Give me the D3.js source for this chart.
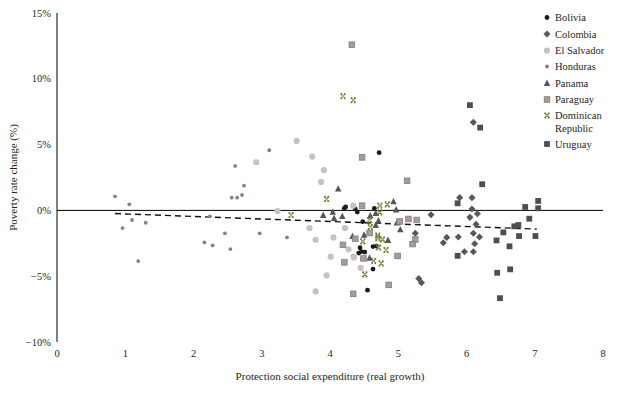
<!DOCTYPE html>
<html>
<head>
<meta charset="utf-8">
<script src="https://cdn.jsdelivr.net/npm/d3@7"></script>
<style>
  body { margin: 0; background: #fff; }
  svg text { font-family: "Liberation Serif", "DejaVu Serif", serif; fill: #231f20; }
</style>
</head>
<body>
<div id="chart"></div>
<script>
const width = 622, height = 394;
const margin = { top: 13, right: 19, bottom: 52, left: 57 };

// data: [expenditure growth, poverty rate change %]
const bolivia = [[4.72,4.39],[4.21,0.16],[4.23,0.26],[4.37,0.11],[4.40,-0.12],[4.65,0.16],[4.48,-0.86],
  [4.44,-2.84],[4.46,-3.13],[4.42,-3.24],[4.51,-3.17],[4.34,-3.52],[4.63,-2.75],[4.68,-2.71],[4.63,-4.46],[4.55,-6.06]];
const colombia = [[6.10,6.69],[5.90,0.97],[6.08,0.97],[6.08,0.11],[6.05,-0.53],[6.16,-0.25],[6.14,-1.06],
  [6.10,-1.74],[6.19,-2.02],[6.12,-2.53],[5.88,-2.02],[5.71,-2.05],[5.66,-2.46],[5.97,-3.14],[6.10,-3.14],
  [5.48,-0.33],[5.25,-1.74],[5.30,-5.17],[5.34,-5.49]];
const elSalvador = [[2.92,3.66],[3.23,-0.05],[3.51,5.28],[3.74,4.09],[3.91,3.07],[3.87,2.16],[3.70,-1.34],
  [3.79,-2.23],[4.01,-3.52],[3.95,-4.94],[3.79,-6.16],[4.34,0.36],[4.22,-1.34],[4.05,-2.05],[4.27,-2.96],
  [4.35,-3.57],[4.45,-4.36]];
const honduras = [[0.85,1.07],[1.06,0.46],[0.96,-1.34],[1.10,-0.73],[1.30,-0.94],[1.19,-3.85],[2.24,-0.45],
  [2.16,-2.43],[2.28,-2.66],[2.46,-1.74],[2.54,-2.94],[2.56,0.97],[2.64,0.97],[2.71,1.17],[2.74,1.88],
  [2.61,3.38],[2.97,-1.74],[3.11,4.57],[3.37,-2.05]];
const panama = [[4.12,1.65],[3.90,-0.35],[4.04,-0.11],[4.06,-0.58],[4.18,-0.43],[4.59,-0.39],[4.67,-0.20],
  [4.71,-0.77],[4.67,-1.11],[4.93,0.69],[4.97,0.07],[4.98,-0.92],[5.03,-1.44],[4.50,-1.85],[4.33,-1.95],
  [4.85,-2.25],[4.58,-3.60]];
const paraguay = [[4.32,12.59],[4.47,4.03],[5.13,2.25],[4.47,0.36],[5.02,-0.84],[5.15,-0.65],[5.27,-0.73],
  [5.25,-2.21],[5.21,-2.56],[4.58,-1.72],[4.37,-2.16],[4.19,-2.62],[4.21,-3.95],[4.49,-3.65],[4.99,-3.46],
  [4.86,-5.66],[4.34,-6.34]];
const dominican = [[4.19,8.68],[4.34,8.38],[3.95,0.87],[3.43,-0.35],[4.73,0.36],[4.84,0.46],[4.73,-0.16],
  [4.58,-0.73],[4.59,-1.26],[4.70,-1.91],[4.70,-2.10],[4.77,-2.21],[4.71,-2.82],[4.48,-2.35],[4.82,-3.01],
  [4.64,-3.84],[4.75,-4.03],[4.51,-4.86]];
const uruguay = [[6.05,8.00],[6.20,6.29],[6.23,1.99],[5.87,0.54],[6.86,0.26],[7.05,0.72],[7.05,0.16],
  [6.92,-0.63],[6.70,-1.21],[6.76,-1.11],[6.54,-1.67],[6.77,-1.95],[7.01,-1.95],[6.44,-2.28],[6.63,-2.73],
  [5.87,-3.45],[6.45,-4.74],[6.64,-4.48],[6.49,-6.67]];

const trendX = [0.85, 7.03];
const trendY = [-0.24, -1.42];

const xTicks = [0, 1, 2, 3, 4, 5, 6, 7, 8];
const yTicks = [15, 10, 5, 0, -5, -10];

const seriesNames = ["Bolivia", "Colombia", "El Salvador", "Honduras", "Panama", "Paraguay", "Dominican Republic", "Uruguay"];
const seriesData = [bolivia, colombia, elSalvador, honduras, panama, paraguay, dominican, uruguay];

// marker styles per series
const styles = [
  { type: "circle", r: 2.4, fill: "#1a1a1a" },
  { type: "diamond", s: 5, fill: "#58585b" },
  { type: "circle", r: 3.1, fill: "#c4c2c2" },
  { type: "circle", r: 1.9, fill: "#8e7f78" },
  { type: "triangle", s: 6.5, fill: "#55555a" },
  { type: "square", s: 5.6, fill: "#a39d9d", stroke: "#8c7b76" },
  { type: "cross", s: 5, fill: "#6b7d2e" },
  { type: "square", s: 5.8, fill: "#4e4e52" }
];

const svg = d3.select("#chart").append("svg")
  .attr("width", width)
  .attr("height", height);

const x = d3.scaleLinear().domain([0, 8]).range([margin.left, width - margin.right]);
const y = d3.scaleLinear().domain([-10, 15]).range([height - margin.bottom, margin.top]);

// y axis line
svg.append("line")
  .attr("x1", x(0)).attr("x2", x(0))
  .attr("y1", y(15)).attr("y2", y(-10))
  .attr("stroke", "#000").attr("stroke-width", 1);

// zero line
svg.append("line")
  .attr("x1", x(0)).attr("x2", x(8))
  .attr("y1", y(0)).attr("y2", y(0))
  .attr("stroke", "#000").attr("stroke-width", 1);

svg.append("g")
  .selectAll("text")
  .data(yTicks)
  .join("text")
  .attr("x", x(0) - 6)
  .attr("y", d => y(d))
  .attr("dy", "0.35em")
  .attr("text-anchor", "end")
  .attr("font-size", 10.5)
  .text(d => (d < 0 ? "\u2212" + Math.abs(d) : d) + "%");

svg.append("g")
  .selectAll("text")
  .data(xTicks)
  .join("text")
  .attr("x", d => x(d))
  .attr("y", y(-10) + 15)
  .attr("text-anchor", "middle")
  .attr("font-size", 10.5)
  .text(d => d);

svg.append("text")
  .attr("x", (x(0) + x(8)) / 2)
  .attr("y", 380)
  .attr("text-anchor", "middle")
  .attr("font-size", 11)
  .text("Protection social expenditure (real growth)");

svg.append("text")
  .attr("transform", `translate(17,${(y(15) + y(-10)) / 2}) rotate(-90)`)
  .attr("text-anchor", "middle")
  .attr("font-size", 11)
  .text("Poverty rate change (%)");

// trend line
svg.append("line")
  .attr("x1", x(trendX[0])).attr("y1", y(trendY[0]))
  .attr("x2", x(trendX[1])).attr("y2", y(trendY[1]))
  .attr("stroke", "#111")
  .attr("stroke-width", 1.4)
  .attr("stroke-dasharray", "6,4");

function drawMarker(g, st) {
  if (st.type === "circle") {
    g.append("circle").attr("r", st.r).attr("fill", st.fill);
  } else if (st.type === "square") {
    g.append("rect")
      .attr("x", -st.s / 2).attr("y", -st.s / 2)
      .attr("width", st.s).attr("height", st.s)
      .attr("fill", st.fill)
      .attr("stroke", st.stroke || "none")
      .attr("stroke-width", st.stroke ? 0.8 : 0);
  } else if (st.type === "diamond") {
    g.append("rect")
      .attr("x", -st.s / 2).attr("y", -st.s / 2)
      .attr("width", st.s).attr("height", st.s)
      .attr("transform", "rotate(45)")
      .attr("fill", st.fill);
  } else if (st.type === "triangle") {
    const h = st.s * 0.9;
    g.append("path")
      .attr("d", `M0,${-h / 2 - 0.5}L${st.s / 2},${h / 2}L${-st.s / 2},${h / 2}Z`)
      .attr("fill", st.fill);
  } else if (st.type === "cross") {
    const a = st.s / 2;
    g.append("path")
      .attr("d", `M${-a},${-a}L${a},${a}M${a},${-a}L${-a},${a}M${-a},${-a}L${-a / 3},${-a}M${a / 3},${-a}L${a},${-a}M${-a},${a}L${-a / 3},${a}M${a / 3},${a}L${a},${a}`)
      .attr("fill", "none")
      .attr("stroke", st.fill)
      .attr("stroke-width", 1.2);
    g.append("rect")
      .attr("x", -1).attr("y", -1).attr("width", 2).attr("height", 2)
      .attr("fill", "#a8b56a");
  }
}

const plot = svg.append("g");
seriesData.forEach((data, i) => {
  plot.append("g")
    .selectAll("g")
    .data(data)
    .join("g")
    .attr("transform", d => `translate(${x(d[0])},${y(d[1])})`)
    .each(function () { drawMarker(d3.select(this), styles[i]); });
});

// legend
const legendY = [17.5, 34, 50.5, 66.5, 83, 99.5, 115.5, 144];
const legend = svg.append("g");
seriesNames.forEach((name, i) => {
  const g = legend.append("g").attr("transform", `translate(547,${legendY[i]})`);
  drawMarker(g, styles[i]);
  const t = g.append("text")
    .attr("x", 8)
    .attr("dy", "0.35em")
    .attr("font-size", 10.5);
  if (name === "Dominican Republic") {
    t.append("tspan").attr("x", 8).text("Dominican");
    t.append("tspan").attr("x", 8).attr("dy", 12.5).text("Republic");
  } else {
    t.text(name);
  }
});
</script>
</body>
</html>
